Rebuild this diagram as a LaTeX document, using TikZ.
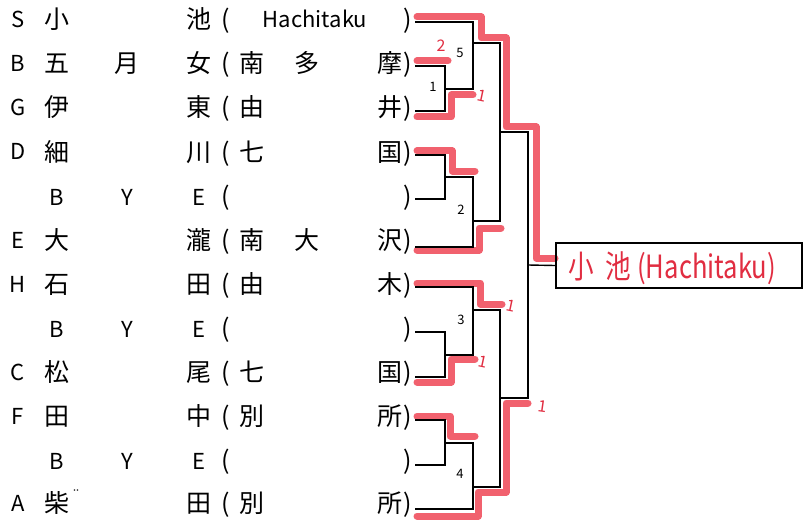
\documentclass[tikz,border=0pt]{standalone}
\usepackage{fontspec}
\usepackage{graphicx}
\setmainfont{Noto Sans CJK JP}
\definecolor{hl}{RGB}{240,80,95}
\definecolor{pen}{RGB}{225,45,65}
\newcommand\lt{\fontsize{22}{22}\selectfont}
\newcommand\kj{\fontsize{25}{25}\selectfont}
\newcommand\myentry[9]{%
  \node[ch,font=\lt] (L#1) at (18,#2+8) {#3};
  \node[ch] (A#1) at (57,#2+9) {#4};
  \node[ch] (B#1) at (127,#2+9) {#5};
  \node[ch] (C#1) at (199,#2+9) {#6};
  \node[ch] (O#1) at (226,#2+9) {(};
  \node[ch] (P#1) at (252,#2+9) {#7};
  \node[ch] (Q#1) at (307,#2+9) {#8};
  \node[ch] (R#1) at (390,#2+9) {#9};
  \node[ch] (E#1) at (408,#2+9) {)};
}
\begin{document}
\begin{tikzpicture}[x=1pt,y=-1pt,
  ch/.style={inner sep=0pt,anchor=base,font=\kj},
  br/.style={line width=1.4pt,black,line cap=rect},
  hi/.style={draw=hl,line width=7pt,opacity=0.9,line cap=round,line join=round},
  num/.style={inner sep=0pt,font=\fontsize{13}{13}\selectfont},
  rnum/.style={num,text=pen,font=\fontsize{16}{16}\selectfont}]
\useasboundingbox (0,0) rectangle (803,524);
\fill[white] (0,0) rectangle (803,524);

% red highlights
\draw[hi] (417,17) -- (481,17) -- (481,38) -- (506,38) -- (506,127) -- (536,127) -- (536,258) -- (555,258);
\draw[hi] (417,61) -- (448,61);
\draw[hi] (417,117) -- (451,117) -- (451,95) -- (473,95);
\draw[hi] (417,151) -- (452,151) -- (452,171) -- (475,171);
\draw[hi] (417,250) -- (479,250) -- (479,228) -- (501,228);
\draw[hi] (417,283) -- (480,283) -- (480,304) -- (502,304);
\draw[hi] (417,382) -- (451,382) -- (451,359) -- (475,359);
\draw[hi] (417,416) -- (450,416) -- (450,436) -- (475,436);
\draw[hi] (417,516) -- (478,516) -- (478,492) -- (506,492) -- (506,403) -- (528,403);

% entries
\myentry{0}{20}{S}{小}{}{池}{}{}{}
\node[ch,font=\lt] (H0) at (315,28) {Hachitaku};
\myentry{1}{64}{B}{五}{月}{女}{南}{多}{摩}
\myentry{2}{108}{G}{伊}{}{東}{由}{}{井}
\myentry{3}{152}{D}{細}{}{川}{七}{}{国}
\myentry{4}{196}{}{\lt B}{\lt Y}{\lt E}{}{}{}
\myentry{5}{240}{E}{大}{}{瀧}{南}{大}{沢}
\myentry{6}{284}{H}{石}{}{田}{由}{}{木}
\myentry{7}{328}{}{\lt B}{\lt Y}{\lt E}{}{}{}
\myentry{8}{372}{C}{松}{}{尾}{七}{}{国}
\myentry{9}{416}{F}{田}{}{中}{別}{}{所}
\myentry{10}{460}{}{\lt B}{\lt Y}{\lt E}{}{}{}
\myentry{11}{503}{A}{柴}{}{田}{別}{}{所}
\node[inner sep=0pt,font=\fontsize{14}{14}\selectfont] (dd) at (76,495) {¨};

% entry line starts
\foreach \i/\y in {0/22,1/66,2/111,3/155,4/199,5/247,6/287,7/332,8/377,9/420,10/465,11/509}
  \coordinate (s\i) at (416,\y);
\coordinate (m1) at (445,89);
\coordinate (m5) at (473,43);
\coordinate (m2) at (445,177);
\coordinate (m2b) at (473,221);
\coordinate (sf1) at (500,132);
\coordinate (m3) at (445,355);
\coordinate (m3b) at (473,310);
\coordinate (m4) at (445,443);
\coordinate (m4b) at (473,487);
\coordinate (sf2) at (500,398);
\coordinate (fin) at (528,265);

% winner box
\node[draw,line width=1.5pt,minimum width=246pt,minimum height=45pt,anchor=west,inner sep=0pt] (win) at (555,265.5) {};
\node[inner sep=0pt,text=pen,anchor=base west] (wt) at (568,278)
  {\scalebox{0.8}[1]{\fontsize{32}{32}\selectfont 小\hspace{0.45em}池\hspace{0.25em}(Hachitaku)}};

% bracket
\draw[br] (s1) -| (m1) |- (s2);
\draw[br] (s0) -| (m5) |- (m1);
\draw[br] (s3) -| (m2) |- (s4);
\draw[br] (s5) -| (m2b) |- (m2);
\draw[br] (m5) -| (sf1) |- (m2b);
\draw[br] (s7) -| (m3) |- (s8);
\draw[br] (s6) -| (m3b) |- (m3);
\draw[br] (s9) -| (m4) |- (s10);
\draw[br] (s11) -| (m4b) |- (m4);
\draw[br] (m3b) -| (sf2) |- (m4b);
\draw[br] (sf1) -| (fin) |- (sf2);
\draw[br] (fin) -- (win.west);

% match numbers
\node[num] (n5) at (460,53) {5};
\node[num] (n1) at (433,87) {1};
\node[num] (n2) at (461,210) {2};
\node[num] (n3) at (461,320) {3};
\node[num] (n4) at (460,474) {4};
% scores
\node[rnum] (r1) at (441,46) {2};
\node[rnum,rotate=-12] (r2) at (482,96) {1};
\node[rnum,rotate=-12] (r3) at (511,306) {1};
\node[rnum,rotate=-12] (r4) at (483,362) {1};
\node[rnum,rotate=-8] (r5) at (543,406) {1};
\end{tikzpicture}
\end{document}
